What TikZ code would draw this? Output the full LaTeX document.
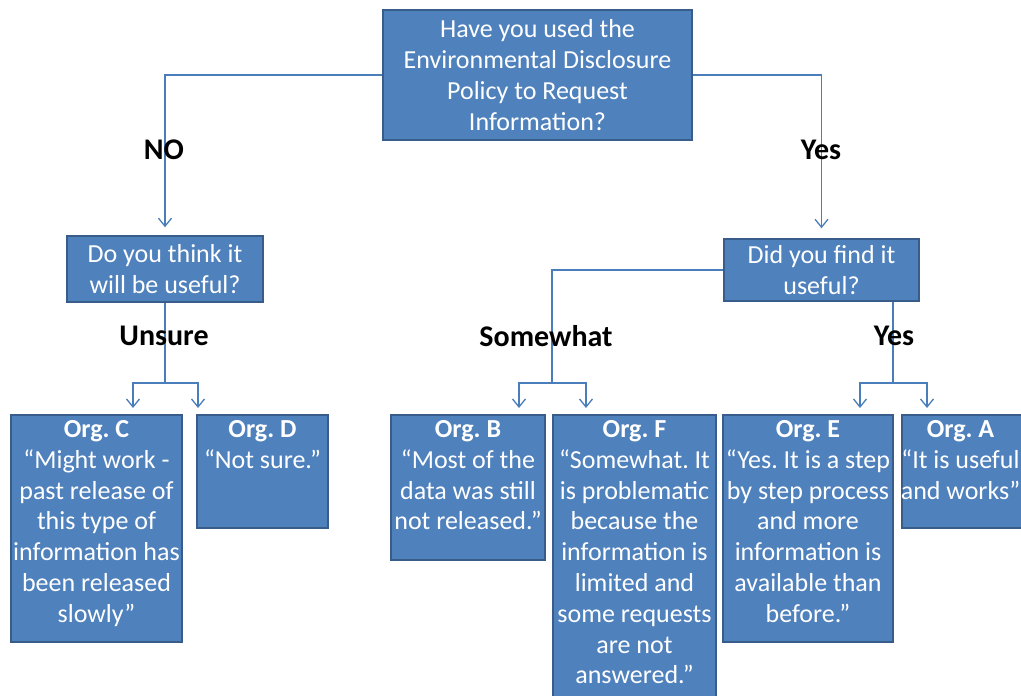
\documentclass[tikz,border=0pt]{standalone}
\usepackage{fontspec}
\setmainfont{Carlito}
\frenchspacing
\usetikzlibrary{arrows.meta}
\definecolor{boxfill}{HTML}{4F81BD}
\definecolor{boxline}{HTML}{385D8A}
\definecolor{connline}{HTML}{4A7EBB}
\tikzset{
  box/.style={draw=boxline, line width=1.5pt, fill=boxfill, rectangle, inner sep=0pt,
    text=white, align=center, font=\fontsize{26}{30.8}\selectfont},
  qtext/.style={inner sep=0pt, text=white, align=center, anchor=north,
    font=\fontsize{26}{30.8}\selectfont},
  lbl/.style={inner sep=0pt, text=black, font=\fontsize{30}{34}\selectfont\bfseries},
  conn/.style={draw=connline, line width=1.3pt},
  arr/.style={conn, -{Straight Barb[length=8pt, width=13pt, line width=1.3pt]}},
}
\begin{document}
\begin{tikzpicture}[x=1pt, y=-1pt]
\useasboundingbox (0,0) rectangle (1021,696);
\clip (0,0) rectangle (1021,696);

% questions
\node[box, minimum width=309, minimum height=130] (Q) at (537.5,75)
  {Have you used the\\Environmental Disclosure\\Policy to Request\\Information?};
\node[box, minimum width=196, minimum height=66] (N) at (165,269)
  {Do you think it\\will be useful?};
\node[box, minimum width=195, minimum height=62] (Y) at (821.5,270)
  {Did you find it\\useful?};

% answer boxes
\node[box, minimum width=171, minimum height=227] (C) at (96.5,528.5) {};
\node[box, minimum width=131, minimum height=113] (D) at (262.5,471.5) {};
\node[box, minimum width=154, minimum height=145] (B) at (468,487.5) {};
\node[box, minimum width=163, minimum height=295] (F) at (634.5,562.5) {};
\node[box, minimum width=170, minimum height=227] (E) at (808,528.5) {};
\node[box, minimum width=133, minimum height=113] (A) at (968.5,471.5) {};

\node[qtext] (Ct) at ([yshift=-6pt]C.north)
  {\textbf{Org. C}\\“Might work -\\past release of\\this type of\\information has\\been released\\slowly”};
\node[qtext] (Dt) at ([yshift=-6pt]D.north)
  {\textbf{Org. D}\\“Not sure.”};
\node[qtext] (Bt) at ([yshift=-6pt]B.north)
  {\textbf{Org. B}\\“Most of the\\data was still\\not released.”};
\node[qtext] (Ft) at ([yshift=-6pt]F.north)
  {\textbf{Org. F}\\“Somewhat. It\\is problematic\\because the\\information is\\limited and\\some requests\\are not\\answered.”};
\node[qtext] (Et) at ([yshift=-6pt]E.north)
  {\textbf{Org. E}\\“Yes. It is a step\\by step process\\and more\\information is\\available than\\before.”};
\node[qtext] (At) at ([yshift=-6pt,xshift=-8pt]A.north)
  {\textbf{Org. A}\\“It is useful\\and works”};

% junctions and arrow ends
\coordinate (jU) at (165,383);
\coordinate (jS) at (552,383);
\coordinate (jY) at (893,383);
\coordinate (aC) at (133,408);
\coordinate (aD) at (198,408);
\coordinate (aB) at (519,408);
\coordinate (aF) at (586,408);
\coordinate (aE) at (860,408);
\coordinate (aA) at (927,408);

% connectors
\draw[arr] (Q.west) -| ([yshift=8pt]N.north);
\draw[arr] (Q.east) -| ([yshift=10pt]Y.north);
\draw[conn] (N.south) -- (jU);
\draw[arr] (jU) -| (aC);
\draw[arr] (jU) -| (aD);
\draw[conn] (Y.west) -| (jS);
\draw[arr] (jS) -| (aB);
\draw[arr] (jS) -| (aF);
\draw[conn] (Y.south -| jY) -- (jY);
\draw[arr] (jY) -| (aE);
\draw[arr] (jY) -| (aA);

% branch labels
\node[lbl] (lNo) at (164,150) {NO};
\node[lbl] (lYes) at (821,150) {Yes};
\node[lbl] (lUn) at (164,336) {Unsure};
\node[lbl] (lSw) at (546,336) {Somewhat};
\node[lbl] (lY2) at (894,336) {Yes};
\end{tikzpicture}
\end{document}
